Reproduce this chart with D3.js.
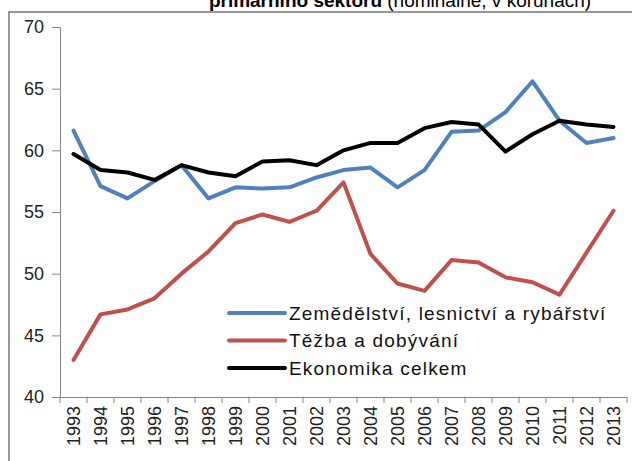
<!DOCTYPE html>
<html>
<head>
<meta charset="utf-8">
<script src="https://cdn.jsdelivr.net/npm/d3@7"></script>
<style>
  body { margin: 0; background: #fff; }
  svg { display: block; font-family: "Liberation Sans", Arial, sans-serif; }
</style>
</head>
<body>
<div id="chart"></div>
<script>
(function(d3) {
    'use strict'

    var width = 632;
    var height = 461;

    var years = ['1993', '1994', '1995', '1996', '1997', '1998', '1999', '2000', '2001', '2002',
        '2003', '2004', '2005', '2006', '2007', '2008', '2009', '2010', '2011', '2012', '2013'];
    var yTicks = [40, 45, 50, 55, 60, 65, 70];

    var zemedelstvi = [61.6, 57.1, 56.1, 57.5, 58.8, 56.1, 57.0, 56.9, 57.0, 57.8,
        58.4, 58.6, 57.0, 58.4, 61.5, 61.6, 63.1, 65.6, 62.4, 60.6, 61.0];
    var tezba = [43.0, 46.7, 47.1, 48.0, 50.0, 51.8, 54.1, 54.8, 54.2, 55.1,
        57.4, 51.6, 49.2, 48.6, 51.1, 50.9, 49.7, 49.3, 48.3, 51.7, 55.1];
    var ekonomika = [59.7, 58.4, 58.2, 57.6, 58.8, 58.2, 57.9, 59.1, 59.2, 58.8,
        60.0, 60.6, 60.6, 61.8, 62.3, 62.1, 59.9, 61.3, 62.4, 62.1, 61.9];

    var series = [
        { name: 'Zemědělství, lesnictví a rybářství', values: zemedelstvi, color: '#4f81bd' },
        { name: 'Těžba a dobývání', values: tezba, color: '#c0504d' },
        { name: 'Ekonomika celkem', values: ekonomika, color: '#000000' }
    ];

    var left = 60, right = 627, top = 27, bottom = 397;

    var svg = d3.select('#chart')
        .append('svg')
        .attr('width', width)
        .attr('height', height);

    // frame of the chart area (cut off at the right edge)
    svg.append('path')
        .attr('d', 'M9,' + height + 'V12H' + (width + 5))
        .attr('fill', 'none')
        .attr('stroke', '#979797')
        .attr('stroke-width', 2);

    // title, top half is cut off like in the source image
    var title = svg.append('text')
        .attr('x', 400)
        .attr('y', 7)
        .attr('text-anchor', 'middle')
        .attr('font-size', 19)
        .attr('fill', '#000');
    title.append('tspan').attr('font-weight', 'bold').text('primárního sektoru ');
    title.append('tspan').text('(nominálně, v korunách)');

    var x = d3.scaleBand()
        .domain(years)
        .range([left, right]);

    var y = d3.scaleLinear()
        .domain([40, 70])
        .range([bottom, top]);

    var yAxis = svg.append('g')
        .attr('transform', 'translate(' + left + ',0)')
        .call(d3.axisLeft(y).tickValues(yTicks).tickSize(8).tickPadding(8));
    yAxis.select('.domain').attr('stroke', '#868686');
    yAxis.selectAll('.tick line').attr('stroke', '#868686');
    yAxis.selectAll('.tick text')
        .attr('font-size', 18)
        .attr('font-family', '"Liberation Sans", Arial, sans-serif')
        .attr('fill', '#222');

    var xAxis = svg.append('g')
        .attr('transform', 'translate(0,' + bottom + ')')
        .call(d3.axisBottom(x).tickSize(0).tickSizeOuter(0));
    xAxis.select('.domain').attr('stroke', '#868686');
    xAxis.selectAll('.tick text')
        .attr('font-size', 18)
        .attr('font-family', '"Liberation Sans", Arial, sans-serif')
        .attr('fill', '#222')
        .attr('text-anchor', 'end')
        .attr('transform', 'rotate(-90)')
        .attr('x', -9)
        .attr('y', 0)
        .attr('dy', '0.35em');

    // tick marks between categories
    svg.append('g')
        .selectAll('line')
        .data(years.concat(['end']))
        .enter()
        .append('line')
        .attr('x1', function(d, i) { return left + i * x.step(); })
        .attr('x2', function(d, i) { return left + i * x.step(); })
        .attr('y1', bottom)
        .attr('y2', bottom + 6)
        .attr('stroke', '#868686');

    var line = d3.line()
        .x(function(d, i) { return x(years[i]) + x.bandwidth() / 2; })
        .y(function(d) { return y(d); });

    svg.append('g')
        .selectAll('path')
        .data(series)
        .enter()
        .append('path')
        .attr('d', function(d) { return line(d.values); })
        .attr('fill', 'none')
        .attr('stroke', function(d) { return d.color; })
        .attr('stroke-width', 4)
        .attr('stroke-linejoin', 'round')
        .attr('stroke-linecap', 'round');

    // legend
    var legend = svg.append('g')
        .selectAll('g')
        .data(series)
        .enter()
        .append('g')
        .attr('transform', function(d, i) { return 'translate(229,' + (313 + i * 27.5) + ')'; });

    legend.append('line')
        .attr('x1', 0)
        .attr('x2', 56)
        .attr('stroke', function(d) { return d.color; })
        .attr('stroke-width', 4)
        .attr('stroke-linecap', 'round');

    legend.append('text')
        .attr('x', 60)
        .attr('dy', '0.35em')
        .attr('font-size', 19)
        .attr('letter-spacing', 1.2)
        .attr('fill', '#111')
        .text(function(d) { return d.name; });

})(window.d3);
</script>
</body>
</html>
